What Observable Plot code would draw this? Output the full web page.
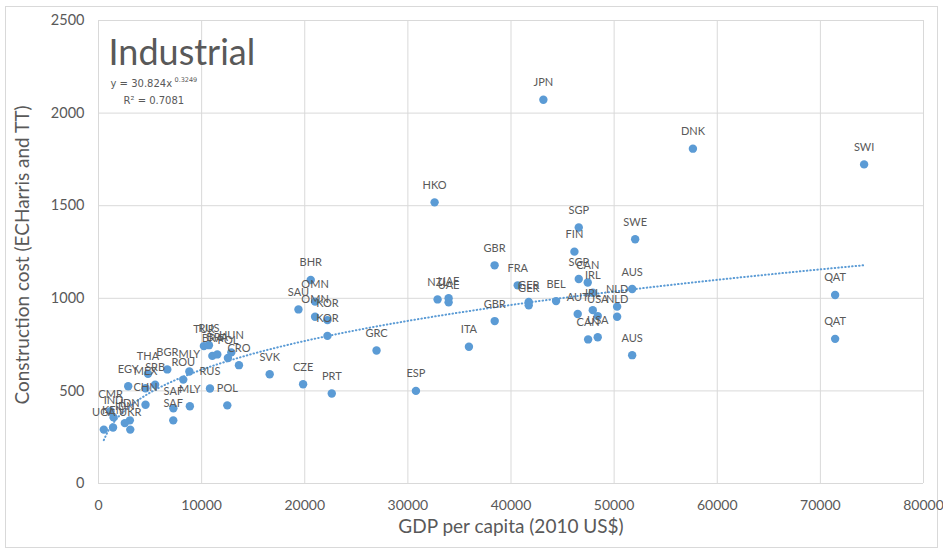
<!DOCTYPE html>
<html><head><meta charset="utf-8">
<script src="https://cdn.jsdelivr.net/npm/d3@7"></script>
<script src="https://cdn.jsdelivr.net/npm/@observablehq/plot@0.6"></script>
<style>
body{margin:0;background:#fff;}
#wrap{position:relative;width:943px;height:553px;}
#border{position:absolute;left:5px;top:6px;width:931px;height:540px;border:1px solid #d9d9d9;pointer-events:none;}
</style></head><body><div id="wrap"><div id="border"></div></div>
<script>
const countries = ["JPN","DNK","SWI","HKO","SGP","SWE","FIN","GBR","SGP","CAN","FRA","AUS","IRL","QAT","QAT","NZL","UAE","UAE","GER","GER","BEL","NLD","NLD","AUT","IRL","USA","USA","CAN","AUS","GBR","ITA","ESP","GRC","PRT","CZE","SVK","BHR","OMN","SAU","OMN","KOR","KOR","CRO","HUN","POL","POL","BRA","BRA","TUR","RUS","RUS","MLY","ROU","BGR","MLY","SAF","SAF","THA","SRB","MEX","EGY","CHN","CMR","IND","IDN","IDN","UGA","KEN","UKR"];
const gdp = [43140,57640,74240,32590,46570,52040,46150,38410,46570,47440,40650,51750,47930,71430,71430,32880,33950,33950,41720,41720,44370,50290,50290,46470,47930,48410,48410,47480,51750,38420,35920,30780,26960,22620,19840,16600,20580,21000,19390,21000,22200,22200,13620,12880,12550,12490,11040,11520,10220,10710,10810,8810,8220,6670,8860,7260,7250,4800,5490,4560,2880,4560,1170,1460,3040,2550,515,1410,3080];
const cost = [2072,1808,1723,1518,1382,1319,1252,1178,1104,1085,1070,1050,1030,1018,781,994,1000,978,980,962,985,955,900,915,936,904,790,778,693,877,738,500,718,486,536,590,1099,982,940,900,882,797,639,708,678,422,689,697,742,747,513,605,561,616,417,406,341,593,533,514,525,425,390,357,341,326,291,302,291];
const xTicks = [0,10000,20000,30000,40000,50000,60000,70000,80000];
const yTicks = [0,500,1000,1500,2000,2500];
const titleText = "Industrial";
const eqMain = "y = 30.824x";
const eqExp = "0.3249";
const r2Text = "R² = 0.7081";
const xTitle = "GDP per capita (2010 US$)";
const yTitle = "Construction cost (ECHarris and TT)";
// Excel power trendline shown on the chart: y = 30.824 x^0.3249
const trendA = 30.824, trendB = 0.3249;

const pts = countries.map((c, i) => ({c, x: gdp[i], y: cost[i]}));
const xmin = d3.min(gdp), xmax = d3.max(gdp);
const trend = d3.range(0, 201).map(i => {
  const x = xmin + (xmax - xmin) * i / 200;
  return {x, y: trendA * Math.pow(x, trendB)};
});

const blue = "#5b9bd5", grey = "#595959", gridc = "#d9d9d9";
const eqFont = "'DejaVu Sans', sans-serif";
const chart = Plot.plot({
  width: 943, height: 553,
  marginLeft: 98, marginRight: 20, marginTop: 20, marginBottom: 70,
  style: {fontFamily: "Lato, 'Open Sans', sans-serif", color: grey, background: "transparent"},
  x: {domain: [0, 80000]},
  y: {domain: [0, 2500]},
  marks: [
    Plot.gridX(xTicks, {stroke: gridc, strokeOpacity: 1, strokeWidth: 1}),
    Plot.gridY(yTicks, {stroke: gridc, strokeOpacity: 1, strokeWidth: 1}),
    Plot.axisX(xTicks, {tickSize: 0, tickPadding: 17, tickFormat: d3.format("d"), fontSize: 14, label: null}),
    Plot.axisY(yTicks, {tickSize: 0, tickPadding: 14, tickFormat: d3.format("d"), fontSize: 14.5, label: null}),
    Plot.text([xTitle], {frameAnchor: "bottom", dy: 49, fontSize: 19, fill: grey}),
    Plot.text([yTitle], {frameAnchor: "left", dx: -76, dy: 3, rotate: -90, textAnchor: "middle", fontSize: 19, fill: grey}),
    Plot.line(trend, {x: "x", y: "y", stroke: blue, strokeWidth: 2, strokeDasharray: "0.5 3", strokeLinecap: "round"}),
    Plot.dot(pts, {x: "x", y: "y", r: 4.2, fill: blue, stroke: "none"}),
    Plot.text(pts, {x: "x", y: "y", text: "c", dy: -17, fontSize: 11, fill: grey}),
    Plot.text([titleText], {frameAnchor: "top-left", dx: 10, dy: 33, textAnchor: "start", lineAnchor: "middle", fontSize: 36, fill: grey}),
    Plot.text([eqMain], {frameAnchor: "top-left", dx: 12, dy: 63, textAnchor: "start", lineAnchor: "middle", fontSize: 10, fontFamily: eqFont, fill: grey}),
    Plot.text([eqExp], {frameAnchor: "top-left", dx: 76, dy: 59, textAnchor: "start", lineAnchor: "middle", fontSize: 6.5, fontFamily: eqFont, fill: grey}),
    Plot.text([r2Text], {frameAnchor: "top-left", dx: 25, dy: 80, textAnchor: "start", lineAnchor: "middle", fontSize: 10, fontFamily: eqFont, fill: grey})
  ]
});
document.getElementById("wrap").appendChild(chart);
chart.style.position = "absolute"; chart.style.left = "0"; chart.style.top = "0";
</script>
</body></html>
